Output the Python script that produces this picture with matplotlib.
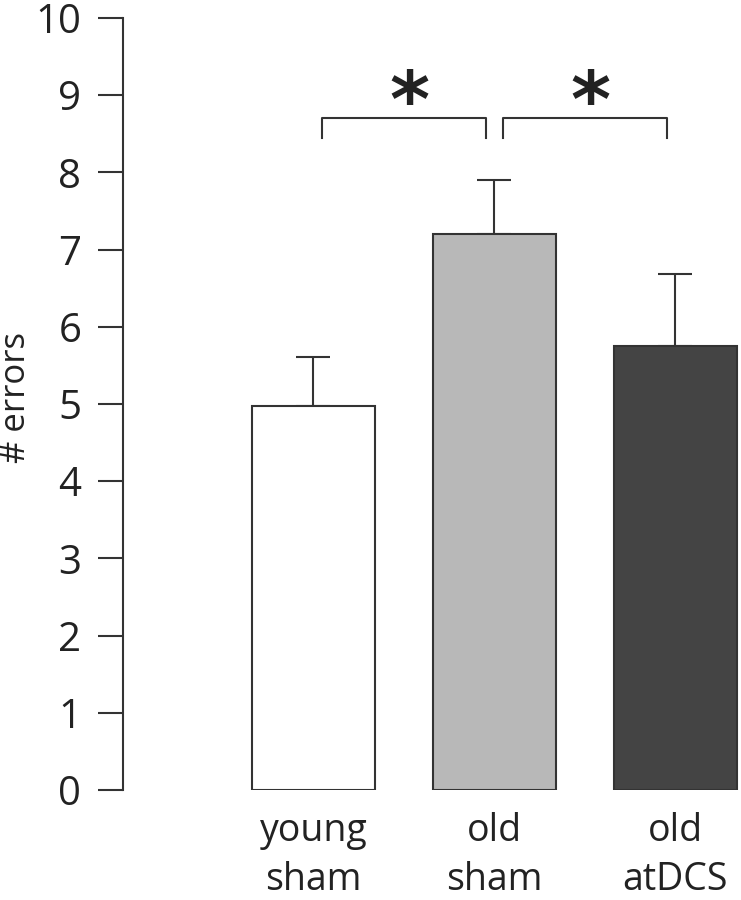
import matplotlib
matplotlib.use("Agg")
import matplotlib.pyplot as plt
import numpy as np

plt.rcParams['font.family'] = ['Open Sans', 'DejaVu Sans']

groups = ["young\nsham", "old\nsham", "old\natDCS"]
means = [4.98, 7.2, 5.75]
sem_up = [0.63, 0.7, 0.94]
colors = ["#ffffff", "#b8b8b8", "#444444"]
# significance pairs (bar index a, bar index b)
sig_pairs = [(0, 1), (1, 2)]

fig = plt.figure(figsize=(7.41, 9.0), dpi=100)
ax = fig.add_axes([123 / 741, 110 / 900, 618 / 741, 772 / 900])

x = np.arange(len(groups))
ax.bar(x, means, width=0.68, color=colors, edgecolor="#333333", linewidth=1.5, zorder=2)
ax.errorbar(x, means, yerr=[np.zeros(len(means)), sem_up], fmt="none",
            ecolor="#333333", elinewidth=1.5, capsize=12, capthick=1.5, zorder=1)

# brackets + stars
for a, b in sig_pairs:
    x0, x1 = a + 0.047, b - 0.047
    ax.plot([x0, x0, x1, x1], [8.45, 8.7, 8.7, 8.45], color="#333333", lw=1.5,
            clip_on=False)
    ax.text((a + b) / 2 + 0.03, 8.4, "*", ha="center", va="bottom",
            fontsize=55, fontweight="bold", color="#222222", family="DejaVu Sans")

ax.set_ylim(0, 10)
ax.set_xlim(-1.0525, 2.362)
ax.set_yticks(range(0, 11))
ax.tick_params(axis="y", direction="out", length=18, width=1.5, labelsize=29,
               pad=12, color="#333333", labelcolor="#222222")
ax.set_xticks(x)
ax.set_xticklabels(groups, fontsize=27, color="#222222", linespacing=1.36)
ax.tick_params(axis="x", length=0, pad=16)

for s in ["top", "right", "bottom"]:
    ax.spines[s].set_visible(False)
ax.spines["left"].set_linewidth(1.5)
ax.spines["left"].set_color("#333333")

ax.set_ylabel("# errors", fontsize=25, color="#222222")
ax.yaxis.set_label_coords(-0.146, 0.509)

fig.savefig("out.png", dpi=100)
